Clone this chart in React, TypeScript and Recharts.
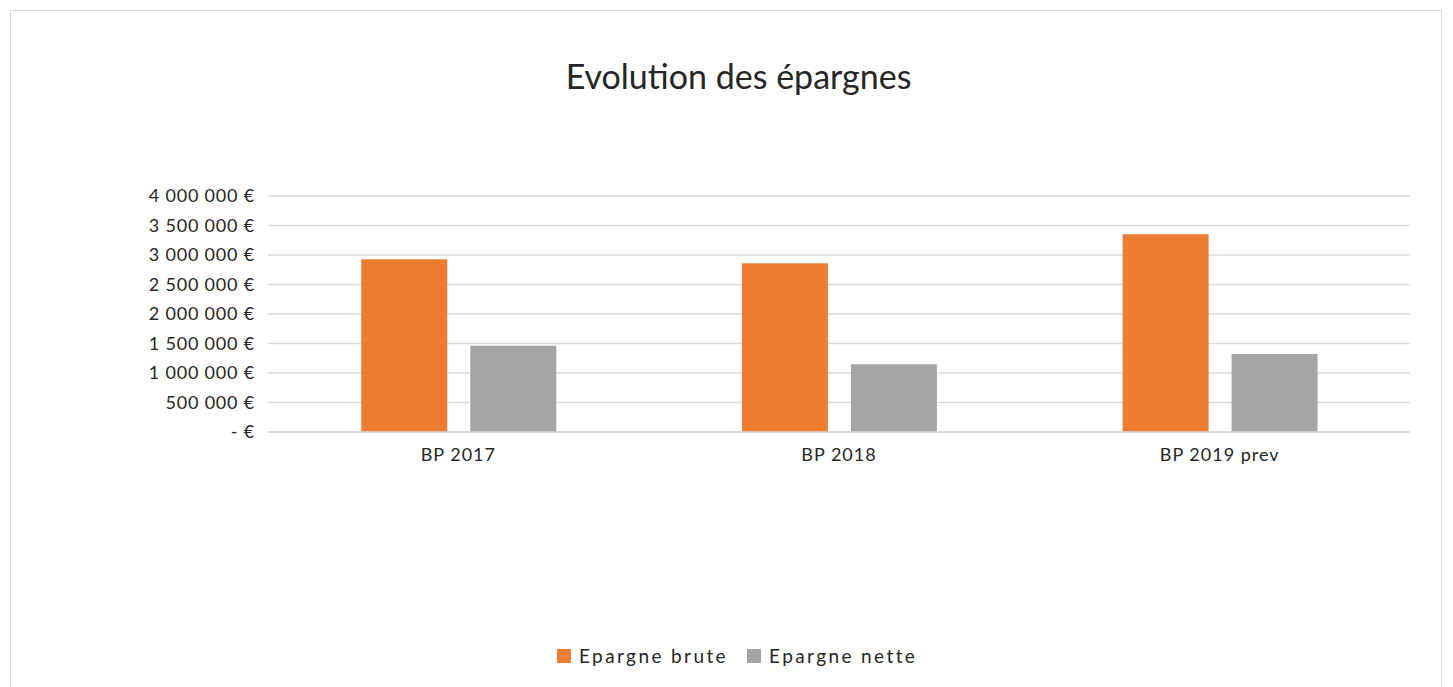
import { BarChart, Bar, XAxis, YAxis, CartesianGrid } from 'recharts';

// ─── Data ─────────────────────────────────────────────────────────────────────

const categories = ['BP 2017', 'BP 2018', 'BP 2019 prev'];
const epargneBrute = [2930000, 2860000, 3350000];
const epargneNette = [1460000, 1150000, 1320000];
const yTicks = [0, 500000, 1000000, 1500000, 2000000, 2500000, 3000000, 3500000, 4000000];

const data = categories.map((name, i) => ({
  name,
  brute: epargneBrute[i],
  nette: epargneNette[i],
}));

const FONT = 'Lato, "Open Sans", sans-serif';
const TEXT = '#262626';

const fmtEuro = (v: number) =>
  v === 0 ? '- €' : `${v.toLocaleString('fr-FR').replace(/[\u202f\u00a0]/g, ' ')} €`;

// ─── Legend ───────────────────────────────────────────────────────────────────

function ChartLegend() {
  const items = [
    { label: 'Epargne brute', color: '#ED7D31' },
    { label: 'Epargne nette', color: '#A5A5A5' },
  ];
  return (
    <div
      style={{
        position: 'absolute', left: 557, top: 644, display: 'flex', gap: 19,
        fontFamily: FONT,
      }}
    >
      {items.map((it) => (
        <div key={it.label} style={{ display: 'flex', alignItems: 'center', gap: 8 }}>
          <span style={{ width: 14, height: 14, background: it.color, display: 'inline-block' }} />
          <span style={{ fontSize: 19, color: TEXT, letterSpacing: 2.4 }}>{it.label}</span>
        </div>
      ))}
    </div>
  );
}

// ─── App ──────────────────────────────────────────────────────────────────────

export default function App() {
  return (
    <div style={{ position: 'absolute', left: 0, top: 0, width: 1453, height: 687, background: '#fff' }}>
      <div
        style={{
          position: 'absolute', left: 10, top: 10, width: 1432, height: 690,
          border: '1px solid #d9d9d9', boxSizing: 'border-box',
        }}
      />
      <div
        style={{
          position: 'absolute', left: 0, top: 55, width: 1477, textAlign: 'center',
          fontFamily: FONT, fontSize: 34, color: TEXT,
        }}
      >
        Evolution des épargnes
      </div>
      <BarChart
        width={1453}
        height={687}
        data={data}
        margin={{ top: 196, right: 43, bottom: 225, left: 108 }}
        barCategoryGap="24.5%"
        barGap={23}
        style={{ position: 'absolute', left: 0, top: 0 }}
      >
        <CartesianGrid vertical={false} stroke="#d9d9d9" strokeWidth={1.5} />
        <XAxis
          dataKey="name"
          height={30}
          axisLine={{ stroke: '#d9d9d9', strokeWidth: 1.5 }}
          tickLine={false}
          tick={{ fontSize: 18, fill: TEXT, fontFamily: FONT, letterSpacing: 1 }}
          tickMargin={10}
        />
        <YAxis
          width={160}
          domain={[0, 4000000]}
          ticks={yTicks}
          interval={0}
          axisLine={false}
          tickLine={false}
          tickFormatter={fmtEuro}
          tick={{ fontSize: 18, fill: TEXT, fontFamily: FONT, letterSpacing: 0.8 }}
          tickMargin={7}
        />
        <Bar dataKey="brute" name="Epargne brute" fill="#ED7D31" isAnimationActive={false} />
        <Bar dataKey="nette" name="Epargne nette" fill="#A5A5A5" isAnimationActive={false} />
      </BarChart>
      <ChartLegend />
    </div>
  );
}
